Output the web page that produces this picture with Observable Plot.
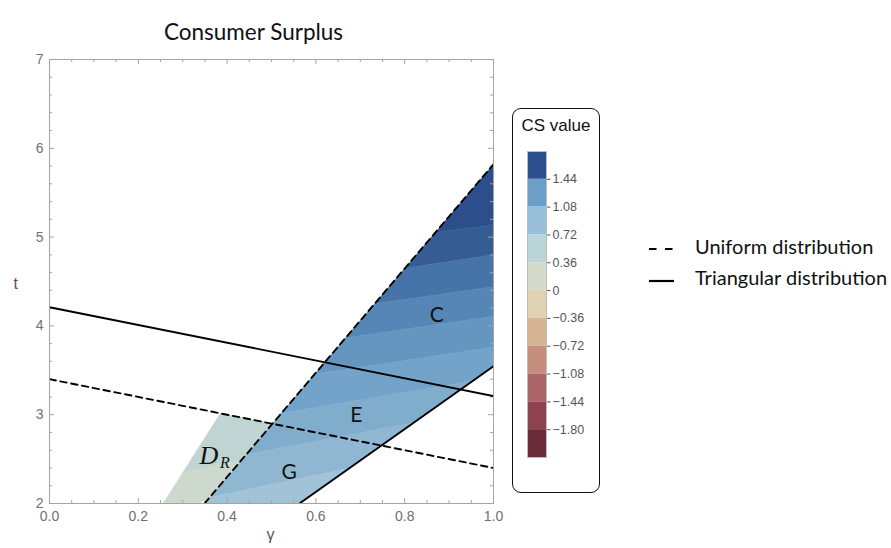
<!DOCTYPE html>
<html>
<head>
<meta charset="utf-8">
<script src="https://cdn.jsdelivr.net/npm/d3@7"></script>
<script src="https://cdn.jsdelivr.net/npm/@observablehq/plot@0.6"></script>
<style>
  body { margin: 0; background: #fff; }
  #wrap { position: relative; width: 891px; height: 548px; overflow: hidden; }
  #wrap > * { position: absolute; }
  #main { left: 0; top: 0; }
  #cbar { left: 512px; top: 108px; }
  #cbox { left: 512px; top: 108px; width: 88px; height: 385px; border: 1.3px solid #111;
          border-radius: 9px; box-sizing: border-box; pointer-events: none; }
  #ctitle { left: 512px; top: 116px; width: 88px; text-align: center;
            font: 17px "Liberation Sans", Arial, sans-serif; color: #111; }
  .lg-text { font: 20px Lato, "Open Sans", sans-serif; color: #111; white-space: nowrap; }
</style>
</head>
<body>
<div id="wrap">
  <div id="main"></div>
  <div id="cbar"></div>
  <div id="cbox"></div>
  <div id="ctitle">CS value</div>
  <svg style="left:646px;top:240px" width="32" height="50">
    <line x1="3" x2="28" y1="9" y2="9" stroke="#000" stroke-width="2.2" stroke-dasharray="7.5,8.5"/>
    <line x1="3" x2="28" y1="41" y2="41" stroke="#000" stroke-width="2.2"/>
  </svg>
  <div class="lg-text" style="left:695px;top:234px">Uniform distribution</div>
  <div class="lg-text" style="left:695px;top:265px">Triangular distribution</div>
</div>
<script>
// ---------- axis ticks ----------
const xMajorTicks = [0, 0.2, 0.4, 0.6, 0.8, 1.0];
const yMajorTicks = [2, 3, 4, 5, 6, 7];

// ---------- threshold lines (γ, t) ----------
const uniformCutGamma = [0, 1];
const uniformCutT = [3.40, 2.40];
const triangularCutGamma = [0, 1];
const triangularCutT = [4.21, 3.21];
const uniformBoundGamma = [0.349, 1];
const uniformBoundT = [2.0, 5.82];
const triangularBoundGamma = [0.563, 1];
const triangularBoundT = [2.0, 3.546];

// ---------- CS contour bands in the main region ----------
// each contour: its t at γ = 1 and its slope dt/dγ
const contourTAtOne = [5.14, 4.80, 4.44, 4.11, 3.76, 3.42, 3.08, 2.74];
const contourSlope  = [0.67, 0.75, 0.71, 0.74, 0.75, 0.85, 0.95, 1.05];
const bandColors = ["#2c4f8b", "#365c94", "#4674a8", "#5586b6", "#6496c0",
                    "#73a3c8", "#81adcc", "#8fb7d1", "#a2c3d7"];

// ---------- D_R region ----------
const drGamma = [0.256, 0.385, 0.502, 0.360, 0.335];
const drT     = [2.0, 3.015, 2.898, 2.065, 2.0];
const drContourGamma = [0.25, 0.50];
const drContourT     = [2.30, 2.55];
const drColors = ["#c1d4d4", "#cdd9cd"];

// ---------- region labels ----------
const labelText  = ["C", "E", "G"];
const labelGamma = [0.872, 0.691, 0.540];
const labelT     = [4.115, 2.995, 2.35];
const drLabelGamma = 0.359;
const drLabelT = 2.535;

// ---------- colour legend ----------
const legendEdges  = [1.80, 1.44, 1.08, 0.72, 0.36, 0, -0.36, -0.72, -1.08, -1.44, -1.80, -2.16];
const legendColors = ["#2b4f8c", "#6b9fc8", "#97bfd9", "#bad5d8", "#d5dbca", "#e0d2b0",
                      "#d7b491", "#c68e7c", "#ac6668", "#8e424f", "#6c2b39"];
const legendTicks  = [1.44, 1.08, 0.72, 0.36, 0, -0.36, -0.72, -1.08, -1.44, -1.80];

// ---------- geometry helpers ----------
// keep the part of a polygon where f(p) >= 0 (f linear)
function clipHalf(poly, f) {
  const out = [];
  for (let i = 0; i < poly.length; i++) {
    const a = poly[i], b = poly[(i + 1) % poly.length];
    const fa = f(a), fb = f(b);
    if (fa >= 0) out.push(a);
    if ((fa >= 0) !== (fb >= 0)) {
      const s = fa / (fa - fb);
      out.push([a[0] + s * (b[0] - a[0]), a[1] + s * (b[1] - a[1])]);
    }
  }
  return out;
}
const closed = poly => poly.length ? [...poly, poly[0]] : poly;

// main region between the uniform and triangular boundaries
const region = [
  [uniformBoundGamma[0], uniformBoundT[0]],
  [uniformBoundGamma[1], uniformBoundT[1]],
  [triangularBoundGamma[1], triangularBoundT[1]],
  [triangularBoundGamma[0], triangularBoundT[0]]
];
const contour = k => p => p[1] - (contourTAtOne[k] - contourSlope[k] * (1 - p[0]));
const bands = bandColors.map((color, i) => {
  let poly = region;
  if (i > 0) poly = clipHalf(poly, p => -contour(i - 1)(p));
  if (i < contourTAtOne.length) poly = clipHalf(poly, contour(i));
  return {color, points: closed(poly)};
});

const drPoly = drGamma.map((g, i) => [g, drT[i]]);
const drSlope = (drContourT[1] - drContourT[0]) / (drContourGamma[1] - drContourGamma[0]);
const drLine = p => p[1] - (drContourT[0] + drSlope * (p[0] - drContourGamma[0]));
const drBands = [
  {color: drColors[0], points: closed(clipHalf(drPoly, drLine))},
  {color: drColors[1], points: closed(clipHalf(drPoly, p => -drLine(p)))}
];

const seg = (gs, ts) => gs.map((g, i) => ({g, t: ts[i]}));

// ---------- main chart ----------
const W = 444, H = 444;
const axisGray = "#a4a4a4";
const xMinor = d3.range(0, 1.0001, 0.05).filter(v => Math.abs(v * 5 - Math.round(v * 5)) > 1e-6);
const yMinor = d3.range(2, 7.0001, 0.2).filter(v => Math.abs(v - Math.round(v)) > 1e-6);
const polyMark = b => Plot.line(b.points, {x: d => d[0], y: d => d[1], fill: b.color, stroke: b.color, strokeWidth: 0.6});

const main = Plot.plot({
  width: 891, height: 548,
  marginLeft: 49, marginRight: 398, marginTop: 59, marginBottom: 45,
  x: {domain: [0, 1], ticks: xMajorTicks, tickSize: 0, tickPadding: 8, tickFormat: d => d.toFixed(1), label: null},
  y: {domain: [2, 7], ticks: yMajorTicks, tickSize: 0, tickPadding: 6, tickFormat: d => String(d), label: null},
  style: {fontFamily: "'Liberation Sans', Arial, sans-serif", fontSize: "14px", color: "#707070", background: "transparent", overflow: "visible"},
  marks: [
    ...bands.map(polyMark),
    ...drBands.map(polyMark),
    // frame ticks, drawn inward
    Plot.tickX(xMajorTicks, {x: d => d, stroke: axisGray, insetTop: H - 5}),
    Plot.tickX(xMinor, {x: d => d, stroke: axisGray, insetTop: H - 3}),
    Plot.tickX(xMajorTicks, {x: d => d, stroke: axisGray, insetBottom: H - 5}),
    Plot.tickX(xMinor, {x: d => d, stroke: axisGray, insetBottom: H - 3}),
    Plot.tickY(yMajorTicks, {y: d => d, stroke: axisGray, insetRight: W - 5}),
    Plot.tickY(yMinor, {y: d => d, stroke: axisGray, insetRight: W - 3}),
    Plot.tickY(yMajorTicks, {y: d => d, stroke: axisGray, insetLeft: W - 5}),
    Plot.tickY(yMinor, {y: d => d, stroke: axisGray, insetLeft: W - 3}),
    // threshold lines
    Plot.line(seg(triangularCutGamma, triangularCutT), {x: "g", y: "t", stroke: "#000", strokeWidth: 1.9, clip: true}),
    Plot.line(seg(triangularBoundGamma, triangularBoundT), {x: "g", y: "t", stroke: "#000", strokeWidth: 1.9, clip: true}),
    Plot.line(seg(uniformCutGamma, uniformCutT), {x: "g", y: "t", stroke: "#000", strokeWidth: 1.9, strokeDasharray: "6.5,4.5", clip: true}),
    Plot.line(seg(uniformBoundGamma, uniformBoundT), {x: "g", y: "t", stroke: "#000", strokeWidth: 1.9, strokeDasharray: "6.5,4.5", clip: true}),
    Plot.frame({stroke: axisGray}),
    // region labels
    Plot.text(labelText, {x: (d, i) => labelGamma[i], y: (d, i) => labelT[i], text: d => d,
      fontFamily: "Lato, 'Open Sans', sans-serif", fontSize: 21, fill: "#111"}),
    Plot.text(["D"], {x: () => drLabelGamma, y: () => drLabelT, text: d => d,
      fontFamily: "'Liberation Serif', 'DejaVu Serif', serif", fontStyle: "italic", fontSize: 26, fill: "#111"}),
    Plot.text(["R"], {x: () => drLabelGamma, y: () => drLabelT, text: d => d, dx: 16, dy: 7,
      fontFamily: "'Liberation Serif', 'DejaVu Serif', serif", fontStyle: "italic", fontSize: 16, fill: "#111"}),
    // title and axis labels
    Plot.text(["Consumer Surplus"], {frameAnchor: "top", text: d => d, dx: -18, dy: -35,
      fontFamily: "Lato, 'Open Sans', sans-serif", fontSize: 22.5, fill: "#111"}),
    Plot.text(["t"], {frameAnchor: "left", text: d => d, dx: -36, dy: 2, fontSize: 16, fill: "#555"}),
    Plot.text(["γ"], {frameAnchor: "bottom", text: d => d, dx: -1, dy: 36, fontSize: 16, fill: "#555"})
  ]
});
document.getElementById("main").append(main);

// ---------- colour legend ----------
const fmt = v => v === 0 ? "0" : v.toFixed(2).replace("-", "\u2212");
const bins = legendColors.map((color, i) => ({hi: legendEdges[i], lo: legendEdges[i + 1], color}));
const cbar = Plot.plot({
  width: 88, height: 385,
  marginTop: 43, marginBottom: 36, marginLeft: 15, marginRight: 54,
  x: {domain: [0, 1], axis: null},
  y: {domain: [-2.16, 1.80], axis: "right", ticks: legendTicks, tickFormat: fmt, tickSize: 3.5, tickPadding: 2.5, label: null},
  style: {fontFamily: "'Liberation Sans', Arial, sans-serif", fontSize: "12.5px", color: "#555", background: "transparent", overflow: "visible"},
  marks: [
    ...bins.map(b => Plot.rect([b], {x1: 0, x2: 1, y1: "lo", y2: "hi", fill: b.color})),
    Plot.frame({stroke: "#bdbdbd"})
  ]
});
document.getElementById("cbar").append(cbar);
</script>
</body>
</html>
